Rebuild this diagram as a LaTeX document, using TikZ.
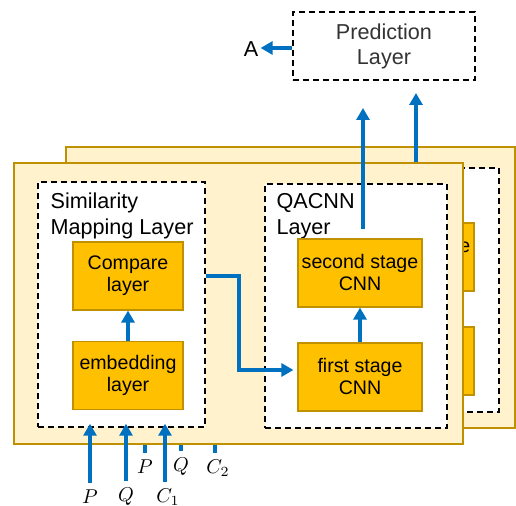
\documentclass[tikz,border=0pt]{standalone}
\usepackage{fontspec}
\setmainfont{Liberation Sans}
\usetikzlibrary{arrows.meta}
\definecolor{panelfill}{HTML}{FFF2CC}
\definecolor{paneldraw}{HTML}{BF9000}
\definecolor{blockfill}{HTML}{FFC000}
\definecolor{flowblue}{HTML}{0070C0}
\tikzset{
  panel/.style={draw=paneldraw, fill=panelfill, line width=1pt, minimum width=224.5pt, minimum height=140.5pt, inner sep=0pt},
  layer/.style={draw, fill=white, dash pattern=on 3pt off 2pt, line width=0.75pt, inner sep=0pt},
  block/.style={draw=paneldraw, fill=blockfill, line width=0.6pt, minimum width=55pt, minimum height=34pt, align=center, inner sep=0pt, font=\fontsize{9.8pt}{11pt}\selectfont},
  title/.style={anchor=north west, align=left, inner sep=1.5pt, font=\fontsize{10.8pt}{13pt}\selectfont},
  flow/.style={draw=flowblue, line width=2pt, -{Triangle[length=6pt,width=6.5pt]}},
}
\begin{document}
\begin{tikzpicture}[x=0.5pt,y=-0.5pt]
      \useasboundingbox (0,0) rectangle (516,506);
      % second copy, behind
      \node[panel] (bpanel) at (290.5,287.5) {};
      \node[layer, minimum width=91pt, minimum height=122pt] (bqa) at (408,290) {};
      \node[block, minimum width=62pt] (bsecond) at (412,257) {second stage\\CNN};
      \node[block, minimum width=62pt] (bfirst) at (412,361) {first stage\\CNN};
      \coordinate (bout) at (416,93);
      \draw [flow] (bsecond.north -| bout) -- (bout);
      \node (bp) at (145,467) {$P$};
      \node (bq) at (181,467) {$Q$};
      \node (bc) at (218,468) {$C_2$};
      \draw [flow] (bp.north) -- (bp.north |- bpanel.south);
      \draw [flow] (bq.north) -- (bq.north |- bpanel.south);
      \draw [flow] ([xshift=-1.5pt]bc.north) -- ([xshift=-1.5pt]bc.north |- bpanel.south);
      % front copy
      \node[panel] (panel) at (238.5,303.5) {};
      \node[layer, minimum width=83.5pt, minimum height=122.5pt] (sim) at (121.5,304.5) {};
      \node[layer, minimum width=91pt, minimum height=122pt] (qa) at (356,306) {};
      \node[title] (simtitle) at ([xshift=5pt,yshift=-4pt]sim.north west) {Similarity\\Mapping Layer};
      \node[title] (qatitle) at ([xshift=4.5pt,yshift=-3.5pt]qa.north west) {QACNN\\Layer};
      \node[block] (cmp) at (128,276) {Compare\\layer};
      \node[block] (emb) at (128,375.5) {embedding\\layer};
      \node[block, minimum width=62pt] (second) at (360,273) {second stage\\CNN};
      \node[block, minimum width=62pt] (first) at (360,377) {first stage\\CNN};
      \draw [flow] (emb) -- (cmp);
      \draw [flow] (first) -- (second);
      \coordinate (bend) at (239,370);
      \draw [flow] (sim.east |- cmp) -| (bend) -- ([xshift=-2pt]first.west |- bend);
      \coordinate (out) at (363,108);
      \draw [flow, shorten <=4.5pt] (second.north -| out) -- (out);
      \node (p) at (90,497) {$P$};
      \node (q) at (126,497) {$Q$};
      \node (c) at (168,497) {$C_1$};
      \draw [flow] (p.north) -- ([yshift=2pt]p.north |- sim.south);
      \draw [flow] (q.north) -- ([yshift=2pt]q.north |- sim.south);
      \draw [flow] ([xshift=-1.5pt]c.north) -- ([xshift=-1.5pt,yshift=2pt]c.north |- sim.south);
      % prediction
      \node[layer, minimum width=91pt, minimum height=34pt, align=center, text=black!80, font=\fontsize{10.8pt}{12.5pt}\selectfont] (pred) at (384,46) {Prediction\\Layer};
      \node[inner sep=1pt, font=\fontsize{10.8pt}{13pt}\selectfont] (ans) at (251,49) {A};
      \draw [flow] (pred.west |- 0,48) -- (ans.east |- 0,48);
    \end{tikzpicture}
\end{document}
